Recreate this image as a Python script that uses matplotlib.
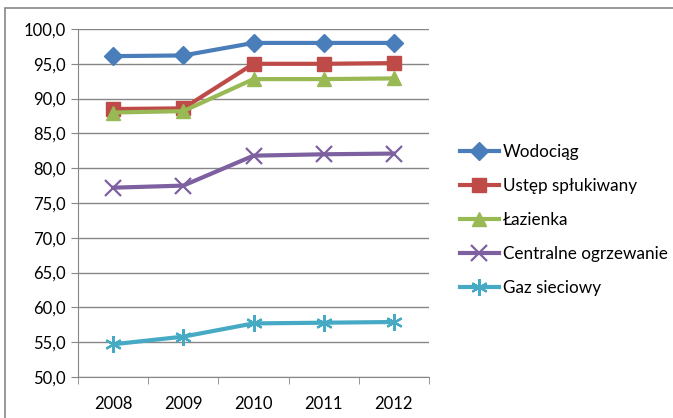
import numpy as np
import matplotlib
matplotlib.use("Agg")
import matplotlib.pyplot as plt
from matplotlib.patches import Rectangle

plt.rcParams['font.family'] = ['Lato', 'DejaVu Sans']

years = ['2008', '2009', '2010', '2011', '2012']
wodociag = [96.1, 96.2, 98.0, 98.0, 98.0]
ustep = [88.5, 88.6, 95.0, 95.0, 95.1]
lazienka = [88.0, 88.2, 92.8, 92.8, 92.9]
centralne = [77.2, 77.5, 81.8, 82.0, 82.1]
gaz = [54.7, 55.8, 57.7, 57.8, 57.9]

series = [
    ('Wodociąg', wodociag, '#4A7EBB', 'D', 9),
    ('Ustęp spłukiwany', ustep, '#BE4B48', 's', 10),
    ('Łazienka', lazienka, '#98B954', '^', 10),
    ('Centralne ogrzewanie', centralne, '#7D60A0', 'x', 11),
    ('Gaz sieciowy', gaz, '#46AAC5', (6, 2, 0), 12),
]

fig = plt.figure(figsize=(6.73, 4.18), dpi=100)
ax = fig.add_axes([78/673, 1 - 377/418, (429-78)/673, (377-29)/418])

x = np.arange(len(years))
for name, vals, col, mk, ms in series:
    ax.plot(x, vals, color=col, lw=3, marker=mk, markersize=ms,
            markeredgewidth=1.6 if mk in ('x',) or isinstance(mk, tuple) else 1,
            markeredgecolor=col, markerfacecolor=col, label=name)

ax.set_xlim(-0.5, 4.5)
ax.set_ylim(50, 100)
ax.set_yticks(np.arange(50, 101, 5))
ax.set_yticklabels([f'{v:.1f}'.replace('.', ',') for v in np.arange(50, 101, 5)], fontsize=12)
ax.set_xticks(x)
ax.set_xticklabels(years, fontsize=12)
ax.set_xticks(np.arange(-0.5, 5, 1), minor=True)
ax.tick_params(axis='x', which='major', length=0, pad=14)
ax.tick_params(axis='x', which='minor', length=5, color='#868686')
ax.tick_params(axis='y', length=5, color='#868686', pad=4)
ax.grid(axis='y', color='#868686', lw=1)
ax.set_axisbelow(True)
for s in ['top', 'right']:
    ax.spines[s].set_visible(False)
for s in ['left', 'bottom']:
    ax.spines[s].set_color('#868686')

fig.legend(loc='upper left', bbox_to_anchor=(453/673, 1 - 137/418), frameon=False,
           fontsize=12.3, handlelength=2.3, handletextpad=0.2, labelspacing=1.05,
           borderaxespad=0)

fig.patches.append(Rectangle((5/673, -0.01), 1.02, 1 - 8/418 + 0.01, transform=fig.transFigure,
                             fill=False, edgecolor='#868686', lw=1.2))

fig.savefig('out.png', dpi=100)
